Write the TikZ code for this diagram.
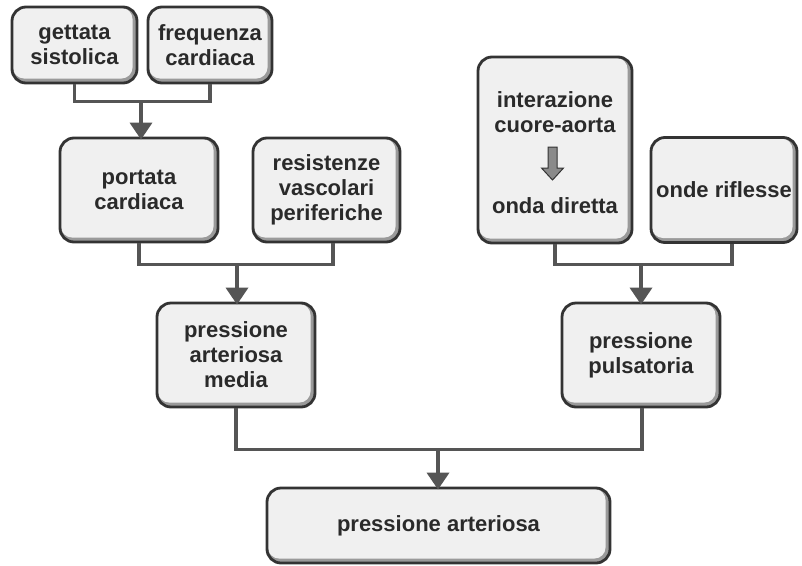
\documentclass[tikz,border=0pt]{standalone}
\usepackage{fontspec}
\setmainfont{Liberation Sans}
\usetikzlibrary{arrows.meta,calc}
\definecolor{txtc}{HTML}{2A2A2A}
\definecolor{linec}{HTML}{555555}
\definecolor{boxline}{HTML}{333333}
\definecolor{boxfill}{HTML}{F0F0F0}
\definecolor{bevel}{HTML}{9A9A9A}
\definecolor{blockarr}{HTML}{8A8A8A}
\begin{document}
\begin{tikzpicture}[x=1pt,y=-1pt,
  box/.style={draw=boxline, line width=2.8pt, rounded corners=14pt, fill=bevel,
    inner sep=0pt, align=center, font=\fontsize{22}{25}\selectfont\bfseries, text=txtc,
    path picture={\fill[boxfill, rounded corners=11pt]
      ([shift={(1pt,-1pt)}]path picture bounding box.north west) rectangle
      ([shift={(-4.5pt,4.5pt)}]path picture bounding box.south east);}},
  boxtxt/.style={inner sep=0pt, font=\fontsize{22}{25}\selectfont\bfseries, text=txtc, anchor=base},
  conn/.style={draw=linec, line width=3.6pt},
  arr/.style={conn, -{Triangle[width=22pt,length=17pt]}, shorten >=-3pt},
]
\useasboundingbox (0,0) rectangle (802,565);
\fill[white] (0,0) rectangle (802,565);

% boxes
\node[box, minimum width=125pt, minimum height=76pt] (gs) at (74.5,45) {gettata\\sistolica};
\node[box, minimum width=124pt, minimum height=76pt] (fc) at (210,45) {frequenza\\cardiaca};
\node[box, minimum width=158pt, minimum height=104pt] (pc) at (139,190) {portata\\cardiaca};
\node[box, minimum width=147pt, minimum height=104pt] (rvp) at (326.5,190) {resistenze\\vascolari\\periferiche};
\node[box, minimum width=158pt, minimum height=104pt] (pam) at (236,355) {pressione\\arteriosa\\media};
\node[box, minimum width=154pt, minimum height=186pt] (ica) at (555,150) {};
\node[box, minimum width=146pt, minimum height=105pt] (orf) at (724,190) {onde riflesse};
\node[box, minimum width=158pt, minimum height=104pt] (pp) at (641,355) {pressione\\pulsatoria};
\node[box, minimum width=343pt, minimum height=75pt] (pa) at (438.5,525.5) {pressione arteriosa};

% text inside interazione box
\node[boxtxt] (ica1) at (555,107) {interazione};
\node[boxtxt] (ica2) at (555,132) {cuore-aorta};
\node[boxtxt] (ica3) at (555,213) {onda diretta};
\fill[blockarr, draw=boxline, line width=1pt] (548,147) -- (557,147) -- (557,168) -- (563.5,168)
  -- (552.5,180) -- (541.5,168) -- (548,168) -- cycle;

% connectors
\draw[conn] (gs.south) -- ++(0,17) -| (fc.south);
\coordinate (m1) at (141,100);
\draw[arr] (m1) -- (m1 |- pc.north);

\draw[conn] (pc.south) -- ++(0,21) -| ([xshift=6.5pt]rvp.south);
\coordinate (m2) at (237,263);
\draw[arr] (m2) -- (m2 |- pam.north);

\draw[conn] (ica.south) -- ++(0,20) -| ([xshift=8pt]orf.south);
\coordinate (m3) at (641,263);
\draw[arr] (m3) -- (m3 |- pp.north);

\draw[conn] (pam.south) -- ++(0,41) -| ([xshift=1pt]pp.south);
\coordinate (m4) at (438,448);
\draw[arr] (m4) -- (m4 |- pa.north);
\end{tikzpicture}
\end{document}
